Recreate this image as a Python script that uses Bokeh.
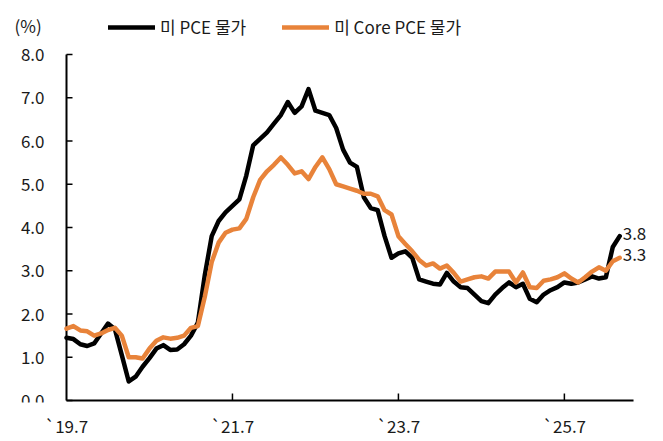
import math
from bokeh.plotting import figure
from bokeh.models import (ColumnDataSource, FixedTicker, Legend, LegendItem,
                          Range1d)
from bokeh.core.properties import value
from bokeh.embed import file_html
from bokeh.resources import INLINE

# Monthly YoY rates, Jul 2019 .. Mar 2026 (month index 0 = Jul 2019)
pce = [1.45, 1.42, 1.30, 1.26, 1.32, 1.55, 1.78, 1.65, 1.05, 0.44,
       0.55, 0.78, 0.98, 1.20, 1.28, 1.17, 1.18, 1.30, 1.50, 1.80,
       2.90, 3.80, 4.15, 4.35, 4.50, 4.65, 5.20, 5.90, 6.05, 6.20,
       6.40, 6.60, 6.90, 6.65, 6.80, 7.20, 6.70, 6.65, 6.60, 6.30,
       5.80, 5.50, 5.40, 4.70, 4.45, 4.40, 3.80, 3.30, 3.40, 3.45,
       3.30, 2.80, 2.75, 2.70, 2.68, 2.95, 2.75, 2.62, 2.60, 2.45,
       2.30, 2.25, 2.45, 2.60, 2.73, 2.62, 2.70, 2.35, 2.27, 2.45,
       2.55, 2.62, 2.73, 2.70, 2.73, 2.80, 2.87, 2.82, 2.85, 3.55,
       3.80]
core_pce = [1.66, 1.72, 1.62, 1.60, 1.50, 1.55, 1.63, 1.68, 1.50, 1.00,
            1.00, 0.97, 1.20, 1.38, 1.46, 1.43, 1.45, 1.50, 1.68, 1.72,
            2.40, 3.20, 3.65, 3.88, 3.95, 3.98, 4.20, 4.70, 5.10, 5.30,
            5.45, 5.62, 5.45, 5.25, 5.30, 5.12, 5.40, 5.62, 5.35, 5.00,
            4.95, 4.90, 4.85, 4.78, 4.78, 4.72, 4.40, 4.30, 3.80, 3.62,
            3.45, 3.25, 3.12, 3.17, 3.05, 3.12, 2.95, 2.75, 2.80, 2.85,
            2.87, 2.82, 2.98, 2.98, 2.98, 2.73, 2.96, 2.62, 2.60, 2.77,
            2.80, 2.85, 2.94, 2.82, 2.73, 2.85, 2.98, 3.08, 3.00, 3.22,
            3.30]
months = list(range(len(pce)))

tick_positions = [0, 24, 48, 72]
tick_labels = ["`19.7", "`21.7", "`23.7", "`25.7"]
y_ticks = [0, 1, 2, 3, 4, 5, 6, 7, 8]
x_axis_end = 82          # axis runs to May 2026

FONT = "Noto Sans CJK KR"
TXT = "#1a1a1a"
BLACK = "#000000"
ORANGE = "#E8833A"
FS = "17px"

# pixel scale of the plotting area
PX_X = 6.915   # px per month
PX_Y = 43.25   # px per percentage point
W, H = 663, 441
LEFT = 66      # x pixel of the value axis
BASE = 400     # y pixel of the zero line
BOTTOM_BORDER = 39

p = figure(width=W, height=H, output_backend="svg", toolbar_location=None,
           x_range=Range1d(-LEFT / PX_X, (W - LEFT) / PX_X),
           y_range=Range1d(-(H - BOTTOM_BORDER - BASE) / PX_Y, BASE / PX_Y),
           min_border_left=0, min_border_right=0,
           min_border_top=0, min_border_bottom=BOTTOM_BORDER)
p.outline_line_color = None
p.grid.visible = False
p.yaxis.visible = False
p.background_fill_color = "white"
p.border_fill_color = "white"

# axis lines and inward tick marks
p.segment(x0=[0, 0], y0=[0, 0], x1=[x_axis_end, 0], y1=[0, max(y_ticks)],
          line_color=BLACK, line_width=2)
p.ray(x=[0] * len(y_ticks), y=y_ticks, length=6, length_units="screen",
      angle=0, line_color=BLACK, line_width=1.5)
p.ray(x=tick_positions[1:], y=[0] * (len(tick_positions) - 1), length=7,
      length_units="screen", angle=math.pi / 2, line_color=BLACK,
      line_width=1.5)

# value-axis labels
p.text(x=[0] * len(y_ticks), y=y_ticks, text=[f"{t:.1f}" for t in y_ticks],
       x_offset=-22, text_align="right", text_baseline="middle",
       text_font=value(FONT), text_font_size=FS, text_color=TXT)
p.text(x=[0], y=[max(y_ticks)], text=["(%)"], x_offset=-52, y_offset=-29,
       text_align="left", text_baseline="middle",
       text_font=value(FONT), text_font_size=FS, text_color=TXT)

src = ColumnDataSource(dict(m=months, pce=pce, core=core_pce))
r_pce = p.line("m", "pce", source=src, line_color=BLACK, line_width=4.5,
               line_join="round", line_cap="round")
r_core = p.line("m", "core", source=src, line_color=ORANGE, line_width=4.5,
                line_join="round", line_cap="round")

# end-of-series value labels
last = len(months) - 1
end_src = ColumnDataSource(dict(
    x=[months[last], months[last]],
    y=[pce[last], core_pce[last]],
    t=[f"{pce[last]:.1f}", f"{core_pce[last]:.1f}"]))
p.text("x", "y", text="t", source=end_src, x_offset=3, y_offset=-3,
       text_baseline="middle", text_align="left", text_font=value(FONT),
       text_font_size=FS, text_color=TXT)

# category axis (labels only; line and ticks drawn above)
ax = p.xaxis[0]
ax.ticker = FixedTicker(ticks=tick_positions)
ax.major_label_overrides = dict(zip(tick_positions, tick_labels))
ax.axis_line_color = None
ax.major_tick_line_color = None
ax.minor_tick_line_color = None
ax.major_label_standoff = 4
ax.major_label_text_font = FONT
ax.major_label_text_font_size = FS
ax.major_label_text_color = TXT

legend = Legend(items=[LegendItem(label="미 PCE 물가", renderers=[r_pce]),
                       LegendItem(label="미 Core PCE 물가", renderers=[r_core])],
                orientation="horizontal", location=(108, 363),
                glyph_width=47, glyph_height=18, label_standoff=5,
                spacing=36, padding=0, margin=0,
                border_line_color=None, background_fill_alpha=0,
                label_text_font=FONT, label_text_font_size=FS,
                label_text_color=TXT)
p.add_layout(legend, "center")

open("out.html", "w").write(file_html(p, INLINE))
